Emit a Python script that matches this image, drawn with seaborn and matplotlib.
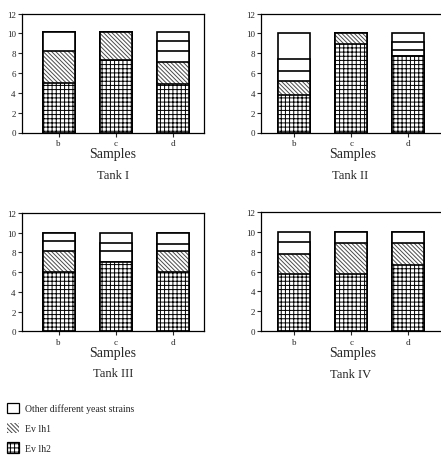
import numpy as np
import pandas as pd
import matplotlib
matplotlib.use("Agg")
import matplotlib.pyplot as plt
from matplotlib.patches import Patch
import seaborn as sns

sns.set_style("white")
plt.rcParams["font.family"] = ["Liberation Serif", "DejaVu Serif"]
plt.rcParams["hatch.linewidth"] = 0.7

samples = ["b", "c", "d"]
tanks = ["Tank I", "Tank II", "Tank III", "Tank IV"]

# Ev lh2 share per sample (bottom segment)
lh2_tank_i = [4.95, 7.3, 4.9]
lh2_tank_ii = [3.8, 8.95, 7.7]
lh2_tank_iii = [6.05, 7.05, 6.0]
lh2_tank_iv = [5.7, 5.7, 6.7]

# Ev lh1 share per sample (middle segment)
lh1_tank_i = [3.25, 2.85, 2.25]
lh1_tank_ii = [1.35, 1.05, 0.0]
lh1_tank_iii = [2.05, 0.0, 2.1]
lh1_tank_iv = [2.1, 3.2, 2.2]

# other yeast strains, one entry per strain, bottom to top
other_tank_i = [[1.9], [], [1.05, 1.05, 0.85]]
other_tank_ii = [[1.1, 1.2, 2.55], [], [0.6, 0.8, 0.9]]
other_tank_iii = [[1.1, 0.8], [1.05, 0.9, 1.0], [0.8, 1.1]]
other_tank_iv = [[1.2, 1.0], [1.1], [1.1]]

lh2_all = [lh2_tank_i, lh2_tank_ii, lh2_tank_iii, lh2_tank_iv]
lh1_all = [lh1_tank_i, lh1_tank_ii, lh1_tank_iii, lh1_tank_iv]
other_all = [other_tank_i, other_tank_ii, other_tank_iii, other_tank_iv]

W, H = 441, 456
fig = plt.figure(figsize=(W / 100, H / 100), dpi=100)

# axes boxes in pixels: left, top, bottom
boxes = [(22, 14.5, 133.5), (261.3, 14.5, 133.5),
         (22, 214, 332.3), (261.3, 212.7, 332.3)]
xlims = [(-0.64, 2.54), (-0.57, 2.61), (-0.64, 2.54), (-0.57, 2.61)]
ax_w = 182

GRID = "++++"
DIAG = "\\" * 8
BAR_W = 0.56


def draw_layer(ax, heights, hatch, hatch_color):
    df = pd.DataFrame({"sample": samples, "value": heights})
    sns.barplot(data=df, x="sample", y="value", order=samples, ax=ax,
                width=BAR_W, errorbar=None, facecolor="white",
                edgecolor=hatch_color, hatch=hatch, linewidth=0)
    sns.barplot(data=df, x="sample", y="value", order=samples, ax=ax,
                width=BAR_W, errorbar=None, facecolor="none",
                edgecolor="black", linewidth=1.2)


for i, (left, top, bottom) in enumerate(boxes):
    ax = fig.add_axes([left / W, 1 - bottom / H, ax_w / W, (bottom - top) / H])
    lh2 = np.array(lh2_all[i])
    lh1 = np.array(lh1_all[i])
    others = other_all[i]

    # cumulative tops for each white strain segment, tallest drawn first
    n_max = max(len(o) for o in others)
    base = lh2 + lh1
    levels = []
    for k in range(n_max):
        levels.append(base + np.array([sum(o[:k + 1]) for o in others]))
    for lev in reversed(levels):
        draw_layer(ax, lev, None, "black")
    draw_layer(ax, lh2 + lh1, DIAG, "#4a4a4a")
    draw_layer(ax, lh2, GRID, "black")

    ax.set_ylim(0, 12)
    ax.set_xlim(*xlims[i])
    ax.set_yticks(range(0, 13, 2))
    ax.tick_params(axis="both", direction="out", length=3, width=0.8,
                   labelsize=6.5, pad=1.5, left=True, bottom=True)
    for s in ax.spines.values():
        s.set_visible(True)
        s.set_linewidth(0.9)
        s.set_color("black")
    ax.set_xlabel("Samples", fontsize=10, labelpad=0)
    ax.set_ylabel("")
    ax.text(0.5 if i % 2 == 0 else 0.49, -0.305, tanks[i], transform=ax.transAxes,
            ha="center", va="top", fontsize=9)

handles = [Patch(facecolor="white", edgecolor="black", linewidth=0.9),
           Patch(facecolor="white", edgecolor="#444444", hatch=DIAG, linewidth=0),
           Patch(facecolor="white", edgecolor="black", hatch=GRID, linewidth=0.9)]
labels = ["Other different yeast strains", "Ev lh1", "Ev lh2"]
fig.legend(handles, labels, loc="upper left",
           bbox_to_anchor=(7 / W, 1 - 404 / H), frameon=False, fontsize=7,
           handlelength=1.25, handleheight=1.25, labelspacing=0.95,
           handletextpad=0.6, borderpad=0, borderaxespad=0)

fig.savefig("out.png", dpi=100)
